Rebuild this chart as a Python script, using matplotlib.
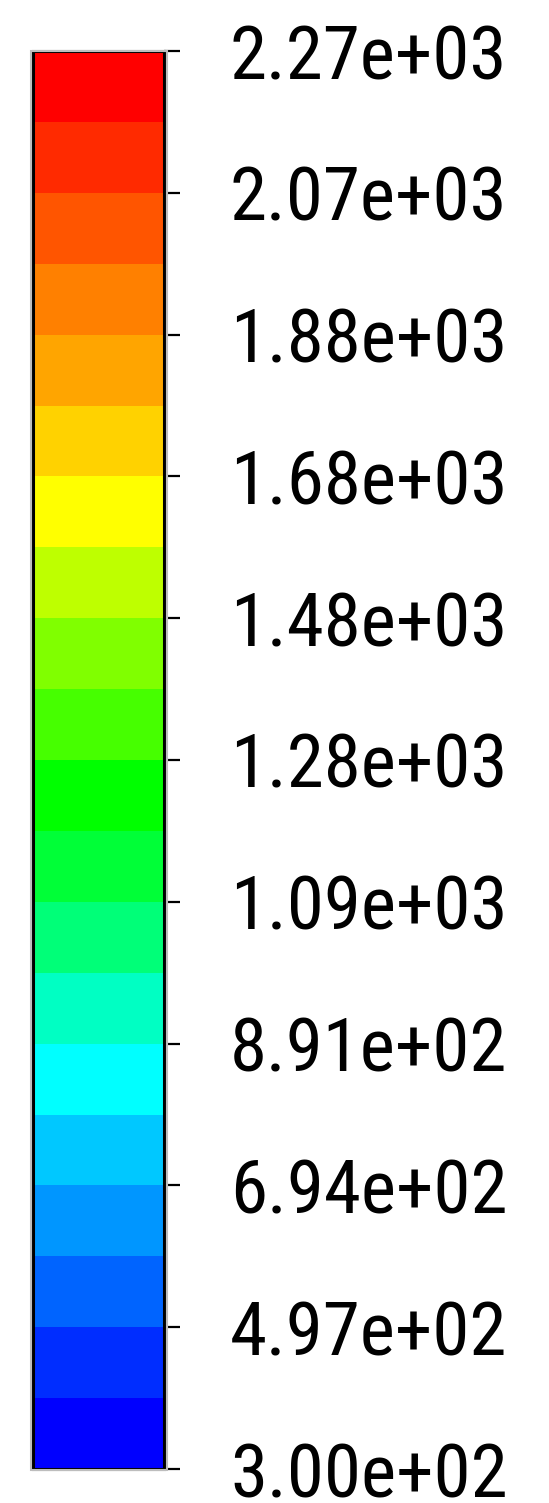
import numpy as np
import matplotlib
matplotlib.use("Agg")
import matplotlib.pyplot as plt
from matplotlib import font_manager as fm
from matplotlib.colors import ListedColormap, BoundaryNorm
from matplotlib.cm import ScalarMappable
from matplotlib.patches import Rectangle

# band colours, bottom (low) to top (high)
band_colors = [
    "#0000ff", "#002dff", "#0064ff", "#0096ff", "#00c8ff",
    "#00ffff", "#00ffc3", "#00ff78", "#00ff37", "#00ff00",
    "#46ff00", "#80ff00", "#beff00", "#ffff00", "#ffd200",
    "#ffa500", "#ff8000", "#ff5500", "#ff2a00", "#ff0000",
]
vmin = 300.0
vmax = 2270.0
tick_values = [300, 497, 694, 891, 1088, 1285, 1482, 1679, 1876, 2073, 2270]
tick_labels = ["3.00e+02", "4.97e+02", "6.94e+02", "8.91e+02", "1.09e+03",
               "1.28e+03", "1.48e+03", "1.68e+03", "1.88e+03", "2.07e+03",
               "2.27e+03"]

# slightly condensed sans if available, otherwise Liberation Sans a bit smaller
installed = {f.name for f in fm.fontManager.ttflist}
if 'Roboto Condensed' in installed:
    plt.rcParams['font.family'] = ['Roboto Condensed', 'Liberation Sans', 'DejaVu Sans']
    label_size = 54
else:
    plt.rcParams['font.family'] = ['Liberation Sans', 'DejaVu Sans']
    label_size = 46

W, H = 549, 1503
fig = plt.figure(figsize=(W / 100, H / 100), dpi=100)

# colour bar axes: x 33..164, y 51..1469 (pixels from top-left)
left, right, top, bottom = 33, 164, 51, 1469
cax = fig.add_axes([left / W, 1 - bottom / H, (right - left) / W, (bottom - top) / H])

# faint grey halo round the bar, as in the exported image
fig.patches.append(Rectangle(((left - 2.5) / W, 1 - (bottom + 1) / H),
                             (right - left + 5) / W, (bottom - top + 1) / H,
                             transform=fig.transFigure, fill=False,
                             edgecolor='#bdbdbd', linewidth=1.5, zorder=0))

edges = np.linspace(vmin, vmax, len(band_colors) + 1)
cmap = ListedColormap(band_colors)
norm = BoundaryNorm(edges, cmap.N)
sm = ScalarMappable(norm=norm, cmap=cmap)
cb = fig.colorbar(sm, cax=cax, orientation='vertical', spacing='proportional')
cb.set_ticks(tick_values)
cb.set_ticklabels(tick_labels)
cb.outline.set_linewidth(2.2)
cb.outline.set_edgecolor('black')
cax.tick_params(axis='y', which='major', direction='out', length=11.5,
                width=1.6, color='black', pad=36, labelsize=label_size)
cax.minorticks_off()

fig.savefig("out.png", dpi=100)
